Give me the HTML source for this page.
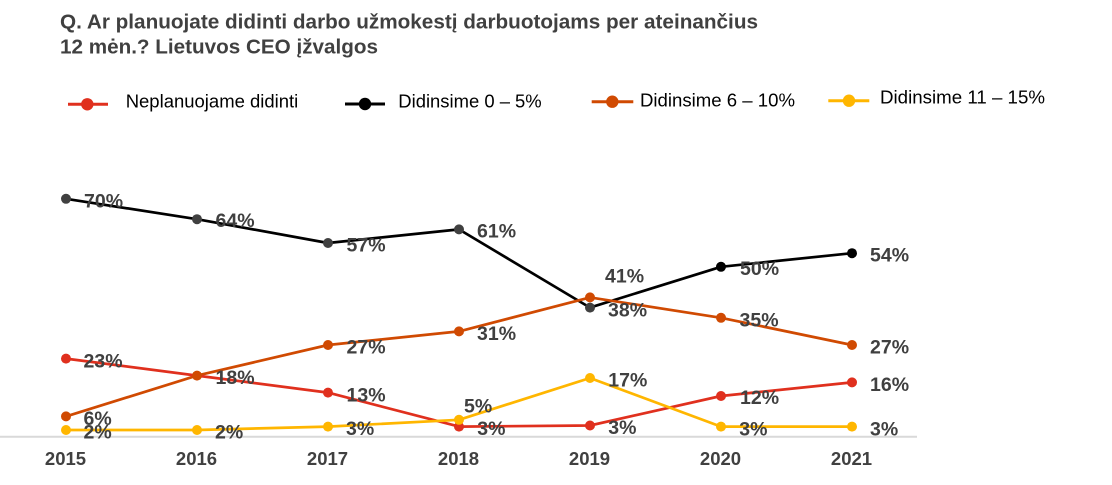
<!DOCTYPE html>
<html><head><meta charset="utf-8"><style>
html,body{margin:0;padding:0;background:#fff;}
svg{display:block;}
</style></head><body>
<svg width="1112" height="485" viewBox="0 0 1112 485" xmlns="http://www.w3.org/2000/svg" font-family="'Liberation Sans', Arial, sans-serif">
<rect width="1112" height="485" fill="#fff"/>
<text x="60" y="28.3" font-size="20.7" font-weight="bold" fill="#404040" textLength="698" lengthAdjust="spacingAndGlyphs">Q. Ar planuojate didinti darbo užmokestį darbuotojams per ateinančius</text>
<text x="60" y="53.3" font-size="20.7" font-weight="bold" fill="#404040" textLength="318" lengthAdjust="spacingAndGlyphs">12 mėn.? Lietuvos CEO įžvalgos</text>

<!-- legend -->
<g stroke-width="3">
<line x1="68" y1="104.3" x2="108" y2="104.3" stroke="#e0301e"/>
<circle cx="87.3" cy="104.3" r="6.2" fill="#e0301e" stroke="none"/>
<line x1="345" y1="104" x2="385" y2="104" stroke="#000"/>
<circle cx="365" cy="104" r="6.2" fill="#000" stroke="none"/>
<line x1="591.7" y1="101.7" x2="633.3" y2="101.7" stroke="#d04a02"/>
<circle cx="612.3" cy="101.7" r="6.2" fill="#d04a02" stroke="none"/>
<line x1="828.3" y1="100.7" x2="869.3" y2="100.7" stroke="#ffb600"/>
<circle cx="849" cy="100.7" r="6.2" fill="#ffb600" stroke="none"/>
</g>
<g font-size="18.5" fill="#000">
<text x="125.7" y="107.5" textLength="172.6" lengthAdjust="spacingAndGlyphs">Neplanuojame didinti</text>
<text x="398.3" y="107.3" textLength="143.4" lengthAdjust="spacingAndGlyphs">Didinsime 0 – 5%</text>
<text x="640" y="106.7" textLength="155" lengthAdjust="spacingAndGlyphs">Didinsime 6 – 10%</text>
<text x="880" y="103.3" textLength="165" lengthAdjust="spacingAndGlyphs">Didinsime 11 – 15%</text>
</g>

<!-- axis -->
<line x1="0" y1="436.8" x2="917" y2="436.8" stroke="#d9d9d9" stroke-width="2"/>

<!-- series lines -->
<g fill="none" stroke-width="2.7" stroke-linejoin="round">
<polyline stroke="#000" points="66,198.8 197,219.2 328,243 459,229.4 590,307.6 721,266.8 852,253.2"/>
<polyline stroke="#d04a02" points="66,416.4 197,375.6 328,345 459,331.4 590,297.4 721,317.8 852,345"/>
<polyline stroke="#e0301e" points="66,358.6 197,375.6 328,392.6 459,426.6 590,425.5 721,396 852,382.4"/>
<polyline stroke="#ffb600" points="66,430 197,430 328,426.6 459,419.8 590,378 721,426.6 852,426.6"/>
</g>
<!-- markers -->
<g>
<circle cx="66" cy="198.8" r="5" fill="#404040"/>
<circle cx="197" cy="219.2" r="5" fill="#404040"/>
<circle cx="328" cy="243" r="5" fill="#404040"/>
<circle cx="459" cy="229.4" r="5" fill="#404040"/>
<circle cx="590" cy="307.6" r="5" fill="#404040"/>
<circle cx="721" cy="266.8" r="5" fill="#000"/>
<circle cx="852" cy="253.2" r="5" fill="#000"/>

<g fill="#d04a02">
<circle cx="66" cy="416.4" r="5"/><circle cx="197" cy="375.6" r="5"/><circle cx="328" cy="345" r="5"/>
<circle cx="459" cy="331.4" r="5"/><circle cx="590" cy="297.4" r="5"/><circle cx="721" cy="317.8" r="5"/><circle cx="852" cy="345" r="5"/>
</g>
<g fill="#e0301e">
<circle cx="66" cy="358.6" r="5"/><circle cx="328" cy="392.6" r="5"/>
<circle cx="459" cy="426.6" r="5"/><circle cx="590" cy="425.5" r="5"/><circle cx="721" cy="396" r="5"/><circle cx="852" cy="382.4" r="5"/>
</g>
<g fill="#ffb600">
<circle cx="66" cy="430" r="5"/><circle cx="197" cy="430" r="5"/><circle cx="328" cy="426.6" r="5"/>
<circle cx="459" cy="419.8" r="5"/><circle cx="590" cy="378" r="5"/><circle cx="721" cy="426.6" r="5"/><circle cx="852" cy="426.6" r="5"/>
</g>
</g>

<!-- data labels -->
<g font-size="19.5" font-weight="bold" fill="#404040">
<text x="84" y="207.3">70%</text>
<text x="215.5" y="226.8">64%</text>
<text x="346.5" y="251.7">57%</text>
<text x="477" y="237.5">61%</text>
<text x="608" y="316.7">38%</text>
<text x="740" y="275">50%</text>
<text x="870" y="261.7">54%</text>

<text x="83.5" y="425">6%</text>
<text x="215.5" y="384">18%</text>
<text x="346.5" y="353.5">27%</text>
<text x="477" y="340">31%</text>
<text x="605" y="282.3">41%</text>
<text x="739.5" y="326.7">35%</text>
<text x="870" y="353.3">27%</text>

<text x="83.5" y="367.3">23%</text>
<text x="346.5" y="401.7">13%</text>
<text x="477.3" y="435">3%</text>
<text x="608.3" y="434">3%</text>
<text x="740" y="404">12%</text>
<text x="870" y="391">16%</text>

<text x="83.5" y="438.3">2%</text>
<text x="215" y="438.3">2%</text>
<text x="346" y="435">3%</text>
<text x="464" y="412.7">5%</text>
<text x="608.3" y="386.7">17%</text>
<text x="739.3" y="435.7">3%</text>
<text x="870" y="435.7">3%</text>
</g>

<!-- x axis labels -->
<g font-size="18.5" font-weight="bold" fill="#404040" text-anchor="middle">
<text x="65.5" y="465">2015</text>
<text x="196.5" y="465">2016</text>
<text x="327.5" y="465">2017</text>
<text x="458.5" y="465">2018</text>
<text x="589.5" y="465">2019</text>
<text x="720.5" y="465">2020</text>
<text x="851.5" y="465">2021</text>
</g>
</svg>
</body></html>
